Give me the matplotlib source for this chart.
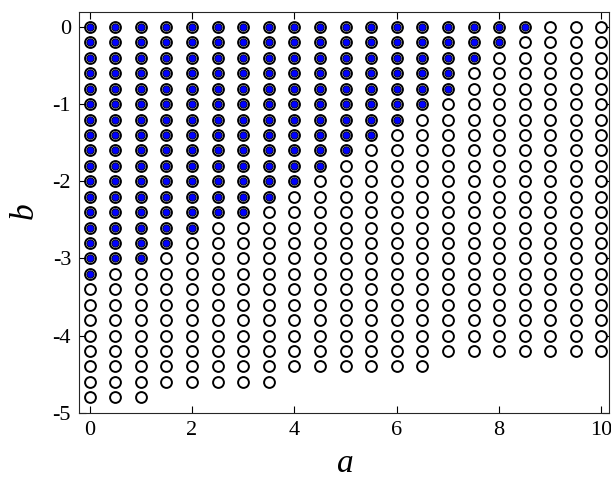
import matplotlib
matplotlib.use('Agg')
import matplotlib.pyplot as plt
import numpy as np

plt.rcParams['font.family'] = ['Liberation Serif', 'DejaVu Serif']
plt.rcParams['mathtext.fontset'] = 'custom'
plt.rcParams['mathtext.it'] = 'Liberation Serif:italic'
plt.rcParams['axes.unicode_minus'] = False

# grid columns (a) and the lowest b reached in each column
a_vals = [0, 0.5, 1, 1.5, 2, 2.5, 3, 3.5, 4, 4.5, 5, 5.5, 6, 6.5, 7, 7.5, 8, 8.5, 9, 9.5, 10]
b_lowest = [-4.8, -4.8, -4.8, -4.6, -4.6, -4.6, -4.6, -4.6, -4.4, -4.4, -4.4, -4.4, -4.4, -4.4,
            -4.2, -4.2, -4.2, -4.2, -4.2, -4.2, -4.2]
# lowest b of the filled (blue) points per column, None = no filled points
b_filled = [-3.2, -3.0, -3.0, -2.8, -2.6, -2.4, -2.4, -2.2, -2.0, -1.8, -1.6, -1.4, -1.2, -1.0,
            -0.8, -0.4, -0.2, 0.0, None, None, None]
b_step = 0.2

open_a, open_b = [], []
fill_a, fill_b = [], []
for a, lo, fl in zip(a_vals, b_lowest, b_filled):
    n = int(round(-lo / b_step)) + 1
    for k in range(n):
        b = -k * b_step
        open_a.append(a)
        open_b.append(b)
        if fl is not None and b >= fl - 1e-9:
            fill_a.append(a)
            fill_b.append(b)

fig = plt.figure(figsize=(6.11, 4.8), dpi=100)
ax = fig.add_axes([0.130, 0.140, 0.867, 0.836])

ax.plot(open_a, open_b, 'o', ms=7.8, mfc='white', mec='black', mew=1.4, ls='none')
ax.plot(fill_a, fill_b, 'o', ms=5.3, mfc='blue', mec='black', mew=0.6, ls='none')

ax.set_xlim(-0.2, 10.15)
ax.set_ylim(-5, 0.2)
ax.set_xticks([0, 2, 4, 6, 8, 10])
ax.set_yticks([0, -1, -2, -3, -4, -5])
ax.tick_params(direction='in', top=True, right=True, length=5, width=0.8, labelsize=16, pad=6)
for s in ax.spines.values():
    s.set_linewidth(0.8)
    s.set_color('#262626')

ax.set_xlabel('$a$', fontsize=24, labelpad=6)
ax.set_ylabel('$b$', fontsize=24, labelpad=8)

fig.savefig('out.png', dpi=100)
